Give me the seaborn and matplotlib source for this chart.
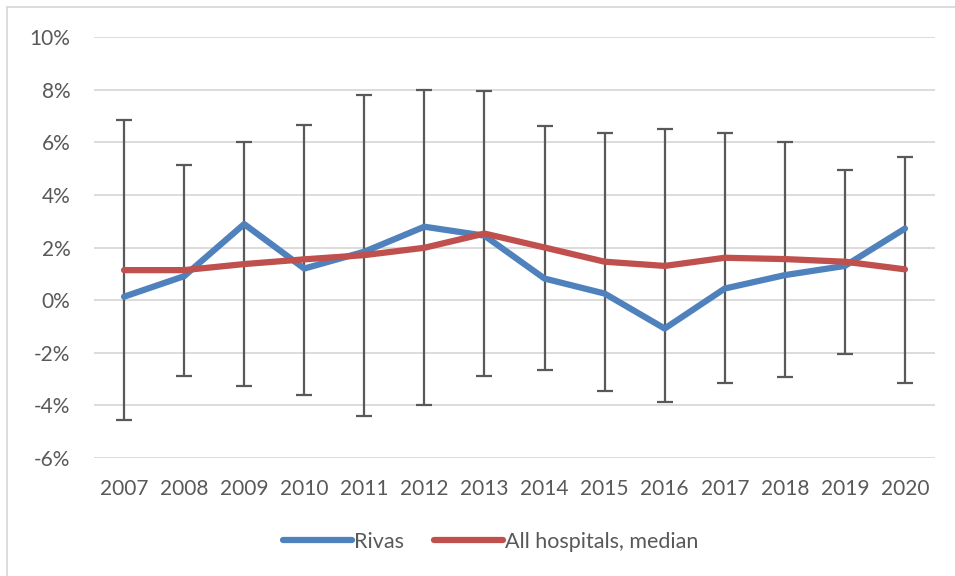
import numpy as np
import pandas as pd
import matplotlib
matplotlib.use("Agg")
import matplotlib.pyplot as plt
import seaborn as sns
from matplotlib.patches import Rectangle
from matplotlib.lines import Line2D
from matplotlib.ticker import FuncFormatter

# DATA (percent)
years = [2007, 2008, 2009, 2010, 2011, 2012, 2013, 2014, 2015, 2016, 2017, 2018, 2019, 2020]
rivas = [0.13, 0.91, 2.89, 1.2, 1.84, 2.79, 2.45, 0.82, 0.25, -1.08, 0.44, 0.95, 1.3, 2.72]
median = [1.14, 1.14, 1.37, 1.55, 1.71, 1.99, 2.53, 2.0, 1.46, 1.30, 1.61, 1.56, 1.46, 1.17]
range_high = [6.83, 5.15, 6.0, 6.65, 7.81, 7.97, 7.96, 6.6, 6.36, 6.49, 6.34, 6.0, 4.94, 5.45]
range_low = [-4.54, -2.89, -3.28, -3.6, -4.41, -4.0, -2.89, -2.64, -3.45, -3.89, -3.16, -2.93, -2.04, -3.14]

df = pd.DataFrame({"year": years, "Rivas": rivas, "All hospitals, median": median})
df_long = df.melt(id_vars="year", var_name="serie", value_name="valor")

sns.set_style("white")
plt.rcParams["font.family"] = ["Lato", "DejaVu Sans"]
texto = "#595959"

fig = plt.figure(figsize=(9.55, 5.76), dpi=100)
ax = fig.add_axes([94 / 955, 1 - 458 / 576, (935 - 94) / 955, (458 - 37) / 576])

# barras de erro (min/max) em volta da mediana
err_baixo = np.array(median) - np.array(range_low)
err_cima = np.array(range_high) - np.array(median)
ax.errorbar(years, median, yerr=[err_baixo, err_cima], fmt="none",
            ecolor="#595959", elinewidth=1.6, capsize=6, capthick=1.6, zorder=2)

sns.lineplot(data=df_long, x="year", y="valor", hue="serie",
             palette={"Rivas": "#4F81BD", "All hospitals, median": "#C0504D"},
             linewidth=4.5, ax=ax, zorder=3, legend=False)

ax.set_xlim(2006.5, 2020.5)
ax.set_ylim(-6, 10)
ax.set_yticks(range(-6, 11, 2))
ax.set_xticks(years)
ax.yaxis.set_major_formatter(FuncFormatter(lambda v, p: f"{v:.0f}%"))
ax.grid(axis="y", color="#D9D9D9", linewidth=1.3)
ax.set_axisbelow(True)
for s in ax.spines.values():
    s.set_visible(False)
ax.set_xlabel("")
ax.set_ylabel("")
ax.tick_params(axis="both", length=0, labelsize=15, colors=texto)
ax.tick_params(axis="y", pad=17)
ax.tick_params(axis="x", pad=15)

# legenda em baixo
handles = [Line2D([], [], color="#4F81BD", linewidth=4.5, solid_capstyle="round"),
           Line2D([], [], color="#C0504D", linewidth=4.5, solid_capstyle="round")]
fig.legend(handles, ["Rivas", "All hospitals, median"], loc="center",
           bbox_to_anchor=(0.514, 1 - 542 / 576), ncol=2, frameon=False,
           fontsize=15.5, labelcolor=texto, handlelength=3.2, handletextpad=0.1,
           columnspacing=1.4)

# borda da area do grafico
fig.patches.append(Rectangle((7 / 955, -0.1), 1.2, 1 - 7 / 576 + 0.1,
                             transform=fig.transFigure, fill=False,
                             edgecolor="#D9D9D9", linewidth=1.3))

fig.savefig("out.png", dpi=100)
